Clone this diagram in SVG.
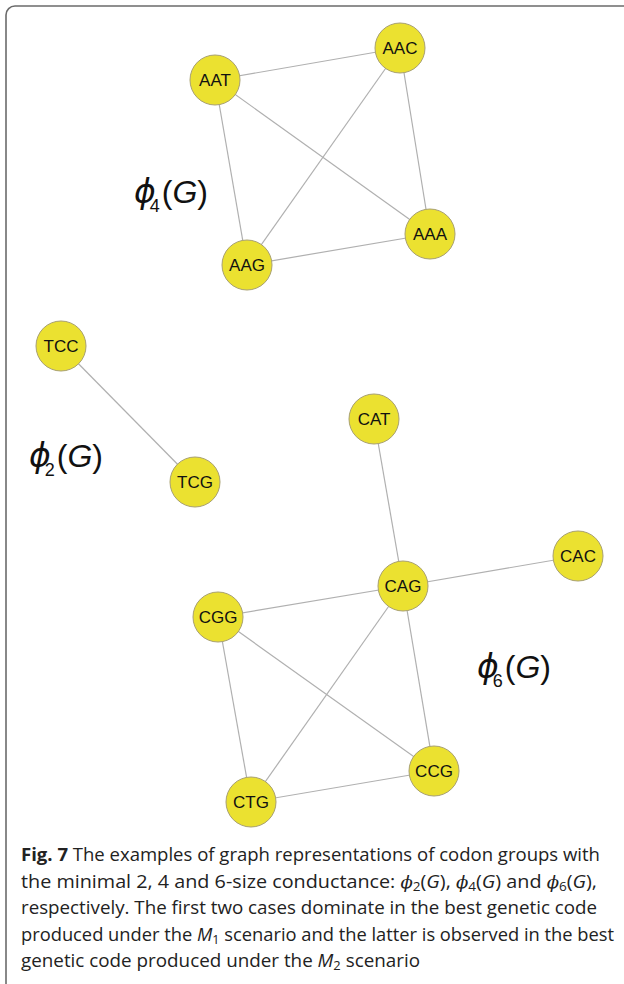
<svg xmlns="http://www.w3.org/2000/svg" width="624" height="984" viewBox="0 0 624 984">
<style>
.frame{fill:none;stroke:#6b6b6b;stroke-width:1.6}
.edge{stroke:#b0b0b0;stroke-width:1.2;fill:none}
.node circle{fill:#ebe130;stroke:#a8a070;stroke-width:1}
.node text{font-family:"Liberation Sans",Arial,sans-serif;font-size:17px;fill:#111;text-anchor:middle;dominant-baseline:central}
.big{font-family:"Liberation Sans",Arial,sans-serif;font-size:32px;fill:#111}
.big .it{font-style:italic}
.big .ph{font-family:"DejaVu Sans",sans-serif;font-style:italic;font-size:33px;font-weight:200}
.big .sub{font-size:18px}
.cap{font-family:"Open Sans",sans-serif;font-size:17.5px;fill:#222}
.cap .b{font-weight:bold}
.cap .m{font-family:"DejaVu Serif",serif;font-style:italic;font-size:16px}
.cap .i{font-style:italic}
.cap .s{font-size:12px}
</style>
<rect class="frame" x="6" y="6" width="660" height="1020" rx="9" ry="9"/>
<g id="connectors">
<line class="edge" x1="215" y1="80" x2="400" y2="48"/>
<line class="edge" x1="215" y1="80" x2="247" y2="265"/>
<line class="edge" x1="215" y1="80" x2="430" y2="234"/>
<line class="edge" x1="400" y1="48" x2="247" y2="265"/>
<line class="edge" x1="400" y1="48" x2="430" y2="234"/>
<line class="edge" x1="247" y1="265" x2="430" y2="234"/>
<line class="edge" x1="61" y1="346" x2="195" y2="482"/>
<line class="edge" x1="374" y1="419" x2="403" y2="586"/>
<line class="edge" x1="578" y1="556" x2="403" y2="586"/>
<line class="edge" x1="403" y1="586" x2="218" y2="617"/>
<line class="edge" x1="403" y1="586" x2="251" y2="802"/>
<line class="edge" x1="403" y1="586" x2="434" y2="771"/>
<line class="edge" x1="218" y1="617" x2="251" y2="802"/>
<line class="edge" x1="218" y1="617" x2="434" y2="771"/>
<line class="edge" x1="251" y1="802" x2="434" y2="771"/>
</g>
<g id="AAT" class="node"><circle cx="215" cy="80" r="25"/><text x="215" y="80">AAT</text></g>
<g id="AAC" class="node"><circle cx="400" cy="48" r="25"/><text x="400" y="48">AAC</text></g>
<g id="AAG" class="node"><circle cx="247" cy="265" r="25"/><text x="247" y="265">AAG</text></g>
<g id="AAA" class="node"><circle cx="430" cy="234" r="25"/><text x="430" y="234">AAA</text></g>
<g id="TCC" class="node"><circle cx="61" cy="346" r="25"/><text x="61" y="346">TCC</text></g>
<g id="TCG" class="node"><circle cx="195" cy="482" r="25"/><text x="195" y="482">TCG</text></g>
<g id="CAT" class="node"><circle cx="374" cy="419" r="25"/><text x="374" y="419">CAT</text></g>
<g id="CAC" class="node"><circle cx="578" cy="556" r="25"/><text x="578" y="556">CAC</text></g>
<g id="CAG" class="node"><circle cx="403" cy="586" r="25"/><text x="403" y="586">CAG</text></g>
<g id="CGG" class="node"><circle cx="218" cy="617" r="25"/><text x="218" y="617">CGG</text></g>
<g id="CCG" class="node"><circle cx="434" cy="771" r="25"/><text x="434" y="771">CCG</text></g>
<g id="CTG" class="node"><circle cx="251" cy="802" r="25"/><text x="251" y="802">CTG</text></g>
<g id="labels">
<text class="big" x="134" y="203"><tspan class="ph">ϕ</tspan><tspan class="sub" dx="-6" dy="9">4</tspan><tspan dx="2" dy="-9">(</tspan><tspan class="it">G</tspan>)</text>
<text class="big" x="29" y="467"><tspan class="ph">ϕ</tspan><tspan class="sub" dx="-6" dy="9">2</tspan><tspan dx="2" dy="-9">(</tspan><tspan class="it">G</tspan>)</text>
<text class="big" x="477" y="678"><tspan class="ph">ϕ</tspan><tspan class="sub" dx="-6" dy="9">6</tspan><tspan dx="2" dy="-9">(</tspan><tspan class="it">G</tspan>)</text>
</g>
<g id="caption" class="cap">
<text x="21" y="861" textLength="579" lengthAdjust="spacingAndGlyphs"><tspan class="b">Fig. 7</tspan> The examples of graph representations of codon groups with</text>
<text x="21" y="888" textLength="576" lengthAdjust="spacingAndGlyphs">the minimal 2, 4 and 6-size conductance: <tspan class="m">ϕ</tspan><tspan class="s" dy="3">2</tspan><tspan dy="-3">(</tspan><tspan class="i">G</tspan>), <tspan class="m">ϕ</tspan><tspan class="s" dy="3">4</tspan><tspan dy="-3">(</tspan><tspan class="i">G</tspan>) and <tspan class="m">ϕ</tspan><tspan class="s" dy="3">6</tspan><tspan dy="-3">(</tspan><tspan class="i">G</tspan>),</text>
<text x="21" y="914" textLength="576" lengthAdjust="spacingAndGlyphs">respectively. The first two cases dominate in the best genetic code</text>
<text x="21" y="941" textLength="593" lengthAdjust="spacingAndGlyphs">produced under the <tspan class="i">M</tspan><tspan class="s" dy="3">1</tspan><tspan dy="-3"> scenario and the latter is observed in the best</tspan></text>
<text x="21" y="967" textLength="399" lengthAdjust="spacingAndGlyphs">genetic code produced under the <tspan class="i">M</tspan><tspan class="s" dy="3">2</tspan><tspan dy="-3"> scenario</tspan></text>
</g>
</svg>
